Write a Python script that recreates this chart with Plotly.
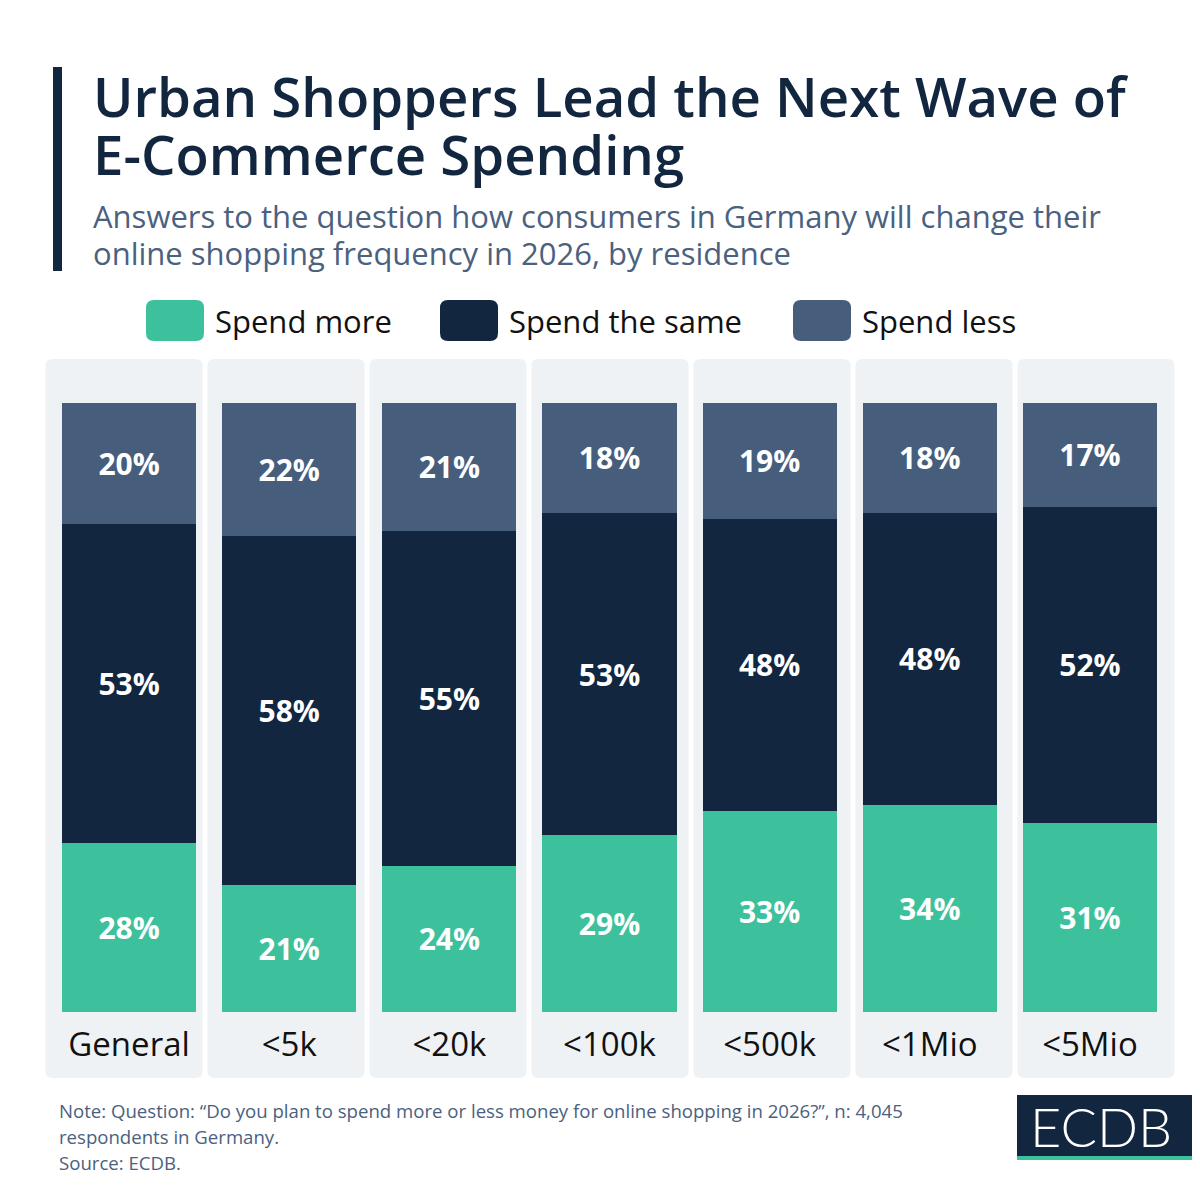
import plotly.graph_objects as go

# data
categories = ["General", "<5k", "<20k", "<100k", "<500k", "<1Mio", "<5Mio"]
spend_more = [28, 21, 24, 29, 33, 34, 31]
spend_same = [53, 58, 55, 53, 48, 48, 52]
spend_less = [20, 22, 21, 18, 19, 18, 17]
series_names = ["Spend more", "Spend the same", "Spend less"]
series_colors = ["#3DC19D", "#12263F", "#465E7C"]

NAVY = "#12263F"
SLATE = "#4A6180"
PANEL = "#EEF2F5"

# page body margin of the browser shifts the figure by 8px
OFF = 8
W, H = 1200 - OFF, 1200 - OFF
# plot area in window pixels
PL, PR, PT, PB = 49, 1170, 403, 1012


def px(x):
    return (x - PL) / (PR - PL)


def py(y):
    return (PB - y) / (PB - PT)


def rounded_rect(x0, y0, x1, y1, r):
    # pixel box -> paper path with rounded corners
    rx = r / (PR - PL)
    ry = r / (PB - PT)
    a, b, c, d = px(x0), px(x1), py(y1), py(y0)  # left, right, bottom, top
    return (f"M {a + rx},{d} L {b - rx},{d} Q {b},{d} {b},{d - ry} "
            f"L {b},{c + ry} Q {b},{c} {b - rx},{c} L {a + rx},{c} "
            f"Q {a},{c} {a},{c + ry} L {a},{d - ry} Q {a},{d} {a + rx},{d} Z")


fig = go.Figure()
for name, vals, col in zip(series_names, [spend_more, spend_same, spend_less], series_colors):
    fig.add_trace(go.Bar(
        x=categories, y=vals, name=name,
        marker=dict(color=col, line=dict(width=0)),
        width=0.837,
        text=[f"{v}%" for v in vals],
        textposition="inside", insidetextanchor="middle",
        textfont=dict(family="Open Sans", size=30, color="white", weight=700),
        hoverinfo="skip", showlegend=False))

shapes = []
# light panels behind each column (slightly wider pitch than the bars)
for i in range(len(categories)):
    cx = 124 + 162 * i
    shapes.append(dict(type="path", xref="paper", yref="paper", layer="below",
                       path=rounded_rect(cx - 78.5, 359, cx + 78.5, 1078, 7),
                       fillcolor=PANEL, line=dict(width=0)))

# accent bar next to title
shapes.append(dict(type="rect", xref="paper", yref="paper",
                   x0=px(53), x1=px(62), y0=py(67), y1=py(271),
                   fillcolor=NAVY, line=dict(width=0)))

annotations = []
# custom legend
legend_x = [146, 440, 793]
for lx, name, col in zip(legend_x, series_names, series_colors):
    shapes.append(dict(type="path", xref="paper", yref="paper",
                       path=rounded_rect(lx, 300, lx + 58, 341, 8),
                       fillcolor=col, line=dict(width=0)))
    annotations.append(dict(x=px(lx + 67), y=py(321), xref="paper", yref="paper",
                            text=name, showarrow=False, xanchor="left", yanchor="middle",
                            font=dict(family="Open Sans", size=31, color="#111111")))

# logo
shapes.append(dict(type="rect", xref="paper", yref="paper",
                   x0=px(1017), x1=px(1200), y0=py(1156), y1=py(1095),
                   fillcolor=NAVY, line=dict(width=0)))
shapes.append(dict(type="rect", xref="paper", yref="paper",
                   x0=px(1017), x1=px(1200), y0=py(1160), y1=py(1156),
                   fillcolor="#3DC19D", line=dict(width=0)))
annotations.append(dict(x=px(1101), y=py(1126), xref="paper", yref="paper",
                        text="ECDB", showarrow=False, xanchor="center", yanchor="middle",
                        font=dict(family="Lato", size=54, color="white", weight=300)))

# titles
title_lines = ["Urban Shoppers Lead the Next Wave of", "E-Commerce Spending"]
for y, t in zip([96, 154], title_lines):
    annotations.append(dict(x=px(91), y=py(y), xref="paper", yref="paper", text=t,
                            showarrow=False, xanchor="left", yanchor="middle",
                            font=dict(family="Open Sans", size=54.5, color=NAVY, weight=600)))
sub_lines = ["Answers to the question how consumers in Germany will change their",
             "online shopping frequency in 2026, by residence"]
for y, t in zip([216, 253], sub_lines):
    annotations.append(dict(x=px(91), y=py(y), xref="paper", yref="paper", text=t,
                            showarrow=False, xanchor="left", yanchor="middle",
                            font=dict(family="Open Sans", size=31, color=SLATE)))
note_lines = ["Note: Question: “Do you plan to spend more or less money for online shopping in 2026?”, n: 4,045",
              "respondents in Germany.", "Source: ECDB."]
for y, t in zip([1110, 1136, 1162], note_lines):
    annotations.append(dict(x=px(57), y=py(y), xref="paper", yref="paper", text=t,
                            showarrow=False, xanchor="left", yanchor="middle",
                            font=dict(family="Open Sans", size=18.6, color=SLATE)))

fig.update_layout(
    width=W, height=H,
    margin=dict(l=PL - OFF, r=1200 - PR, t=PT - OFF, b=1200 - PB, pad=0),
    barmode="stack", barnorm="percent",
    paper_bgcolor="white", plot_bgcolor="rgba(0,0,0,0)",
    shapes=shapes, annotations=annotations,
    xaxis=dict(range=[-0.5, 6.5], showgrid=False, zeroline=False, showline=False,
               ticks="", ticklabelstandoff=10,
               tickfont=dict(family="Open Sans", size=33, color="#111111")),
    yaxis=dict(range=[0, 100], visible=False),
    uniformtext=dict(minsize=30, mode="show"),
)

fig.write_html("out.html")
